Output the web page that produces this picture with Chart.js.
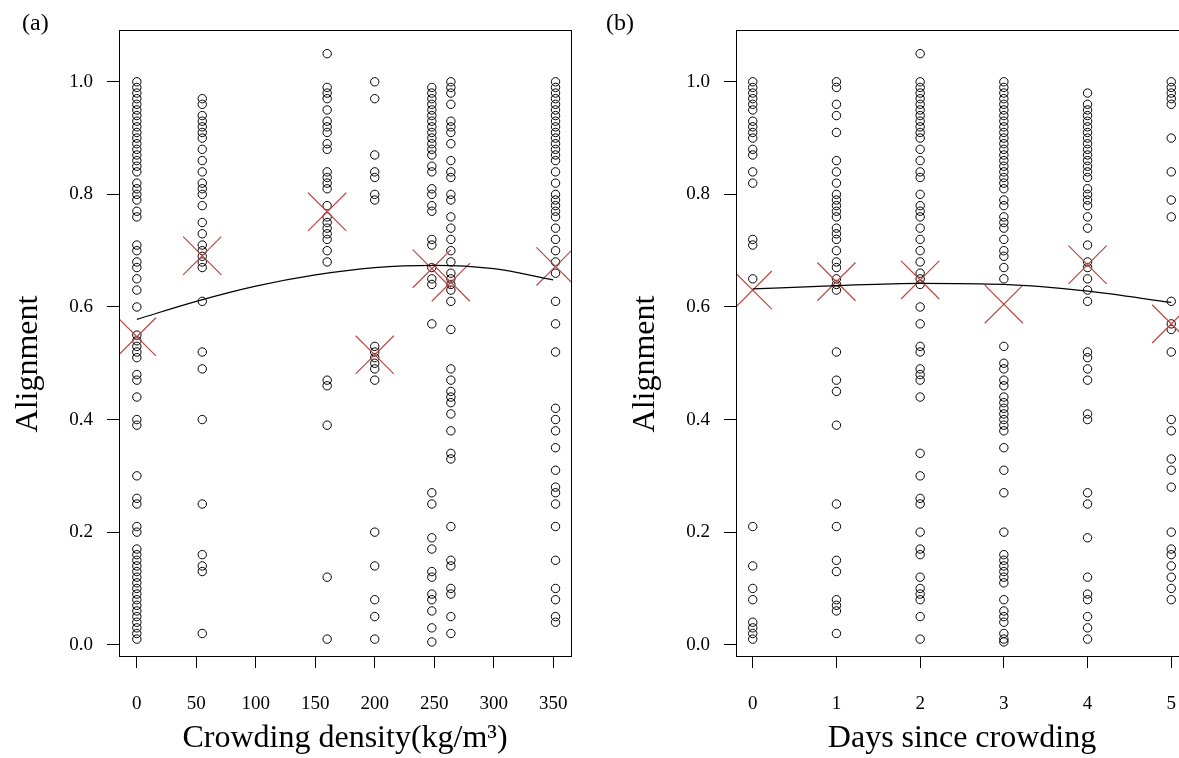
<!DOCTYPE html>
<html>
<head>
<meta charset="utf-8">
<script src="https://cdn.jsdelivr.net/npm/chart.js@4.4.0/dist/chart.umd.min.js"></script>
<style>
  body { margin: 0; width: 1179px; height: 758px; overflow: hidden; background: #fff; position: relative; }
  .panel { position: absolute; top: 0; width: 600px; height: 758px; }
  .tag { position: absolute; font-family: "Liberation Serif", serif; font-size: 24px; color: #000; }
</style>
</head>
<body>
<div class="panel" style="left:0px"><canvas id="chartA" width="600" height="758"></canvas></div>
<div class="panel" style="left:617px"><canvas id="chartB" width="600" height="758"></canvas></div>
<div class="tag" style="left:22px;top:9px">(a)</div>
<div class="tag" style="left:606px;top:9px">(b)</div>
<script>
// ---- panel (a): alignment vs crowding density ----
const densityLevels = [0, 55, 160, 200, 248, 264, 352];
const alignD0 = [1.00,0.99,0.98,0.97,0.96,0.95,0.94,0.93,0.92,0.91,0.90,0.89,0.88,0.87,0.86,0.85,0.84,0.82,0.81,0.80,0.79,0.77,0.76,0.71,0.70,0.68,0.67,0.65,0.63,0.60,0.55,0.54,0.53,0.52,0.51,0.48,0.47,0.44,0.40,0.39,0.30,0.26,0.25,0.21,0.20,0.17,0.16,0.15,0.14,0.13,0.12,0.11,0.10,0.09,0.08,0.07,0.06,0.05,0.04,0.03,0.02,0.01];
const alignD55 = [0.97,0.96,0.94,0.93,0.92,0.91,0.90,0.88,0.86,0.84,0.82,0.81,0.80,0.78,0.75,0.73,0.71,0.70,0.69,0.68,0.67,0.61,0.52,0.49,0.40,0.25,0.16,0.14,0.13,0.02];
const alignD160 = [1.05,0.99,0.98,0.97,0.95,0.93,0.92,0.91,0.89,0.88,0.84,0.83,0.82,0.81,0.78,0.76,0.75,0.74,0.73,0.72,0.70,0.68,0.47,0.46,0.39,0.12,0.01];
const alignD200 = [1.00,0.97,0.87,0.84,0.83,0.80,0.79,0.53,0.52,0.51,0.50,0.49,0.47,0.20,0.14,0.08,0.05,0.01];
const alignD248 = [0.99,0.98,0.97,0.96,0.95,0.94,0.93,0.92,0.91,0.90,0.89,0.88,0.87,0.85,0.84,0.81,0.80,0.78,0.77,0.72,0.71,0.67,0.65,0.64,0.57,0.27,0.25,0.19,0.17,0.13,0.12,0.09,0.08,0.06,0.03,0.005];
const alignD264 = [1.00,0.99,0.98,0.96,0.93,0.92,0.91,0.89,0.86,0.84,0.83,0.80,0.79,0.76,0.74,0.72,0.70,0.68,0.66,0.65,0.64,0.63,0.61,0.56,0.49,0.47,0.45,0.44,0.43,0.41,0.38,0.34,0.33,0.21,0.15,0.14,0.10,0.09,0.05,0.02];
const alignD352 = [1.00,0.99,0.98,0.97,0.96,0.95,0.94,0.93,0.92,0.91,0.90,0.89,0.88,0.87,0.86,0.84,0.82,0.80,0.79,0.78,0.77,0.76,0.74,0.72,0.70,0.68,0.66,0.61,0.57,0.52,0.42,0.40,0.38,0.35,0.31,0.28,0.27,0.25,0.21,0.15,0.10,0.08,0.05,0.04];
const meanByDensity = [0.547, 0.691, 0.769, 0.515, 0.668, 0.644, 0.672];
const fitDensityX = [0, 50, 100, 150, 200, 250, 300, 350];
const fitDensityY = [0.578, 0.610, 0.637, 0.657, 0.670, 0.674, 0.668, 0.648];
const densityTicks = [0, 50, 100, 150, 200, 250, 300, 350];

// ---- panel (b): alignment vs days since crowding ----
const dayLevels = [0, 1, 2, 3, 4, 5];
const alignDay0 = [1.00,0.99,0.98,0.97,0.96,0.95,0.93,0.92,0.91,0.90,0.88,0.87,0.84,0.82,0.72,0.71,0.65,0.21,0.14,0.10,0.08,0.04,0.03,0.02,0.01];
const alignDay1 = [1.00,0.99,0.96,0.94,0.91,0.86,0.84,0.82,0.80,0.79,0.78,0.77,0.76,0.74,0.73,0.72,0.70,0.68,0.67,0.65,0.64,0.63,0.52,0.47,0.45,0.39,0.25,0.21,0.15,0.13,0.08,0.07,0.06,0.02];
const alignDay2 = [1.05,1.00,0.99,0.98,0.97,0.96,0.95,0.94,0.93,0.92,0.91,0.90,0.88,0.86,0.84,0.83,0.80,0.78,0.77,0.76,0.74,0.72,0.70,0.68,0.66,0.65,0.64,0.60,0.57,0.53,0.52,0.49,0.48,0.47,0.44,0.34,0.30,0.26,0.25,0.20,0.17,0.16,0.12,0.10,0.09,0.08,0.05,0.01];
const alignDay3 = [1.00,0.99,0.98,0.97,0.96,0.95,0.94,0.93,0.92,0.91,0.90,0.89,0.88,0.87,0.86,0.85,0.84,0.83,0.82,0.81,0.79,0.78,0.76,0.75,0.74,0.72,0.70,0.69,0.67,0.65,0.53,0.50,0.49,0.47,0.46,0.44,0.43,0.42,0.41,0.40,0.39,0.38,0.35,0.31,0.27,0.20,0.16,0.15,0.14,0.13,0.12,0.11,0.08,0.06,0.05,0.04,0.02,0.01,0.005];
const alignDay4 = [0.98,0.96,0.95,0.94,0.93,0.92,0.91,0.90,0.89,0.88,0.87,0.86,0.85,0.84,0.83,0.81,0.80,0.79,0.78,0.76,0.74,0.71,0.68,0.67,0.65,0.63,0.61,0.52,0.51,0.49,0.47,0.41,0.40,0.27,0.25,0.19,0.12,0.09,0.08,0.05,0.03,0.01];
const alignDay5 = [1.00,0.99,0.98,0.97,0.96,0.90,0.84,0.79,0.76,0.61,0.57,0.56,0.52,0.40,0.38,0.33,0.31,0.28,0.20,0.17,0.16,0.14,0.12,0.10,0.08];
const meanByDay = [0.630, 0.645, 0.648, 0.605, 0.675, 0.570];
const fitDayX = [0, 1, 2, 3, 4, 5];
const fitDayY = [0.632, 0.638, 0.642, 0.640, 0.628, 0.608];
const dayTicks = [0, 1, 2, 3, 4, 5];

const alignTicks = [0.0, 0.2, 0.4, 0.6, 0.8, 1.0];

const serif = '"Liberation Serif", "Times New Roman", serif';
const crossColor = 'rgb(188, 72, 66)';

// draws the R-style box round the plot region and the y label
const boxPlugin = {
    id: 'box',
    afterDraw(chart) {
        const a = chart.chartArea;
        const ctx = chart.ctx;
        ctx.save();
        ctx.strokeStyle = '#000';
        ctx.lineWidth = 1;
        ctx.strokeRect(Math.round(a.left) + 0.5, Math.round(a.top) + 0.5,
            Math.round(a.right - a.left), Math.round(a.bottom - a.top));
        // y axis title, sits a bit below the middle like the original
        ctx.translate(29, 364);
        ctx.rotate(-Math.PI / 2);
        ctx.fillStyle = '#000';
        ctx.font = '32px ' + serif;
        ctx.textAlign = 'center';
        ctx.textBaseline = 'middle';
        ctx.fillText('Alignment', 0, 0);
        ctx.restore();
    }
};

function makePanel(canvasId, levels, columns, means, fitX, fitY, xTicks, xMin, xMax, xTitle) {
    const circles = [];
    levels.forEach((lv, i) => {
        columns[i].forEach(v => circles.push({ x: lv, y: v }));
    });

    new Chart(document.getElementById(canvasId), {
        type: 'scatter',
        data: {
            datasets: [
                {
                    type: 'line',
                    data: fitX.map((x, i) => ({ x: x, y: fitY[i] })),
                    borderColor: '#000',
                    borderWidth: 1.2,
                    pointRadius: 0,
                    tension: 0.4,
                    cubicInterpolationMode: 'monotone',
                    fill: false
                },
                {
                    data: levels.map((lv, i) => ({ x: lv, y: means[i] })),
                    pointStyle: 'crossRot',
                    pointRadius: 27,
                    pointBorderColor: crossColor,
                    pointBackgroundColor: crossColor,
                    borderColor: crossColor,
                    backgroundColor: crossColor,
                    pointBorderWidth: 1.2,
                    borderWidth: 1.2
                },
                {
                    data: circles,
                    pointStyle: 'circle',
                    pointRadius: 4.2,
                    borderColor: '#000',
                    borderWidth: 1,
                    backgroundColor: 'rgba(0,0,0,0)'
                }
            ]
        },
        options: {
            responsive: false,
            animation: false,
            events: [],
            layout: { padding: { top: 30, right: 29, left: 0, bottom: 0 } },
            plugins: { legend: { display: false }, tooltip: { enabled: false } },
            scales: {
                x: {
                    type: 'linear',
                    min: xMin,
                    max: xMax,
                    afterBuildTicks: s => { s.ticks = xTicks.map(v => ({ value: v })); },
                    afterFit: s => { s.height = 102; },
                    border: { display: false },
                    grid: { drawOnChartArea: false, drawTicks: true, tickLength: 12, color: '#000', tickWidth: 1 },
                    ticks: {
                        color: '#000',
                        padding: 25,
                        maxRotation: 0,
                        font: { family: serif, size: 19 },
                        callback: v => String(v)
                    },
                    title: {
                        display: true,
                        text: xTitle,
                        color: '#000',
                        font: { family: serif, size: 32 },
                        padding: { top: 0, bottom: 0 }
                    }
                },
                y: {
                    type: 'linear',
                    min: -0.02,
                    max: 1.092,
                    afterBuildTicks: s => { s.ticks = alignTicks.map(v => ({ value: v })); },
                    afterFit: s => { s.width = 119; },
                    border: { display: false },
                    grid: { drawOnChartArea: false, drawTicks: true, tickLength: 12, color: '#000', tickWidth: 1 },
                    ticks: {
                        color: '#000',
                        padding: 14,
                        font: { family: serif, size: 19 },
                        callback: v => v.toFixed(1)
                    },
                    title: { display: false }
                }
            }
        },
        plugins: [boxPlugin]
    });
}

makePanel('chartA', densityLevels,
    [alignD0, alignD55, alignD160, alignD200, alignD248, alignD264, alignD352],
    meanByDensity, fitDensityX, fitDensityY, densityTicks, -15, 365,
    'Crowding density(kg/m³)');

makePanel('chartB', dayLevels,
    [alignDay0, alignDay1, alignDay2, alignDay3, alignDay4, alignDay5],
    meanByDay, fitDayX, fitDayY, dayTicks, -0.2, 5.2,
    'Days since crowding');
</script>
</body>
</html>
